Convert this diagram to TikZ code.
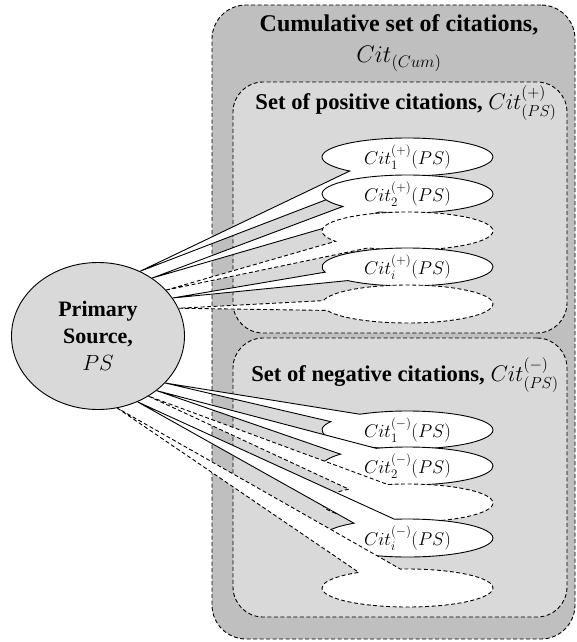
\RequirePackage{fix-cm}
\documentclass[tikz,border=0pt]{standalone}
\usepackage{amsmath}
\usepackage{fontspec}
\setmainfont{Liberation Serif}
\usepackage{xcolor}
\usepackage{tikz}
\usetikzlibrary{shapes.geometric, shapes.callouts, positioning}

\definecolor{cumgray}{HTML}{BFBFBF}
\definecolor{setgray}{HTML}{D9D9D9}

\begin{document}
\begin{tikzpicture}[x=1pt, y=-1pt]
				% Styles
				\tikzstyle{dashline} = [dash pattern=on 4pt off 2.5pt, line width=0.9pt]
				\tikzstyle{setbox} = [draw, dashline, rectangle, rounded corners=30pt, inner sep=0pt]
				\tikzstyle{headtext} = [font=\fontsize{22.6}{27}\selectfont\bfseries, align=center, inner sep=0pt]
				\tikzstyle{source} = [draw, line width=0.9pt, fill=setgray, ellipse, minimum width=173pt, minimum height=147pt, inner sep=0pt, font=\fontsize{22}{27}\selectfont\bfseries, align=center]
				\tikzstyle{citation} = [draw, line width=0.9pt, fill=white, ellipse callout, callout pointer arc=30, minimum width=171pt, minimum height=38pt, inner sep=0pt, font=\fontsize{18.5}{22}\selectfont]
				\tikzstyle{blankcitation} = [citation, dashline]

				\useasboundingbox (0,0) rectangle (577,642);

				% Sets (absolute coordinates)
				\node (cumset) [setbox, fill=cumgray, minimum width=363pt, minimum height=634pt, rounded corners=34pt] at (393.5,322) {};
				\node (posset) [setbox, fill=setgray, minimum width=334pt, minimum height=251pt] at (400,207.5) {};
				\node (negset) [setbox, fill=setgray, minimum width=334pt, minimum height=279pt] at (400,477.5) {};

				% Set titles
				\node (cumtitle) [headtext, font=\fontsize{24}{29}\selectfont\bfseries] at (399,43) {Cumulative set of citations,\\[2pt] $Cit_{(Cum)}$};
				\node (postitle) [headtext] at (406,103) {Set of positive citations, $Cit^{(+)}_{(PS)}$};
				\node (negtitle) [headtext] at (405,375) {Set of negative citations, $Cit^{(-)}_{(PS)}$};

				% Primary source
				\node (ps) [source] at (98,336) {Primary\\Source,\\$PS$};

				% Positive citations
				\node (pos1) [citation, callout absolute pointer={(ps.57.5)}] at (407.5,157) {$Cit^{(+)}_1(PS)$};
				\node (pos2) [citation, callout absolute pointer={(ps.47.5)}] at (407.5,194) {$Cit^{(+)}_2(PS)$};
				\node (pos3) [blankcitation, callout absolute pointer={(ps.34)}] at (407.5,231) {};
				\node (posi) [citation, callout absolute pointer={(ps.27.5)}] at (407.5,267) {$Cit^{(+)}_i(PS)$};
				\node (posn) [blankcitation, callout absolute pointer={(ps.19)}] at (407.5,304) {};

				% Negative citations
				\node (neg1) [citation, callout absolute pointer={(ps.-35)}] at (407.5,430) {$Cit^{(-)}_1(PS)$};
				\node (neg2) [citation, callout absolute pointer={(ps.-43.5)}] at (407.5,466) {$Cit^{(-)}_2(PS)$};
				\node (neg3) [blankcitation, callout absolute pointer={(ps.-50)}] at (407.5,503) {};
				\node (negi) [citation, callout absolute pointer={(ps.-59)}] at (407.5,538) {$Cit^{(-)}_i(PS)$};
				\node (negn) [blankcitation, callout absolute pointer={(ps.-75)}] at (407.5,588) {};

			\end{tikzpicture}
\end{document}
